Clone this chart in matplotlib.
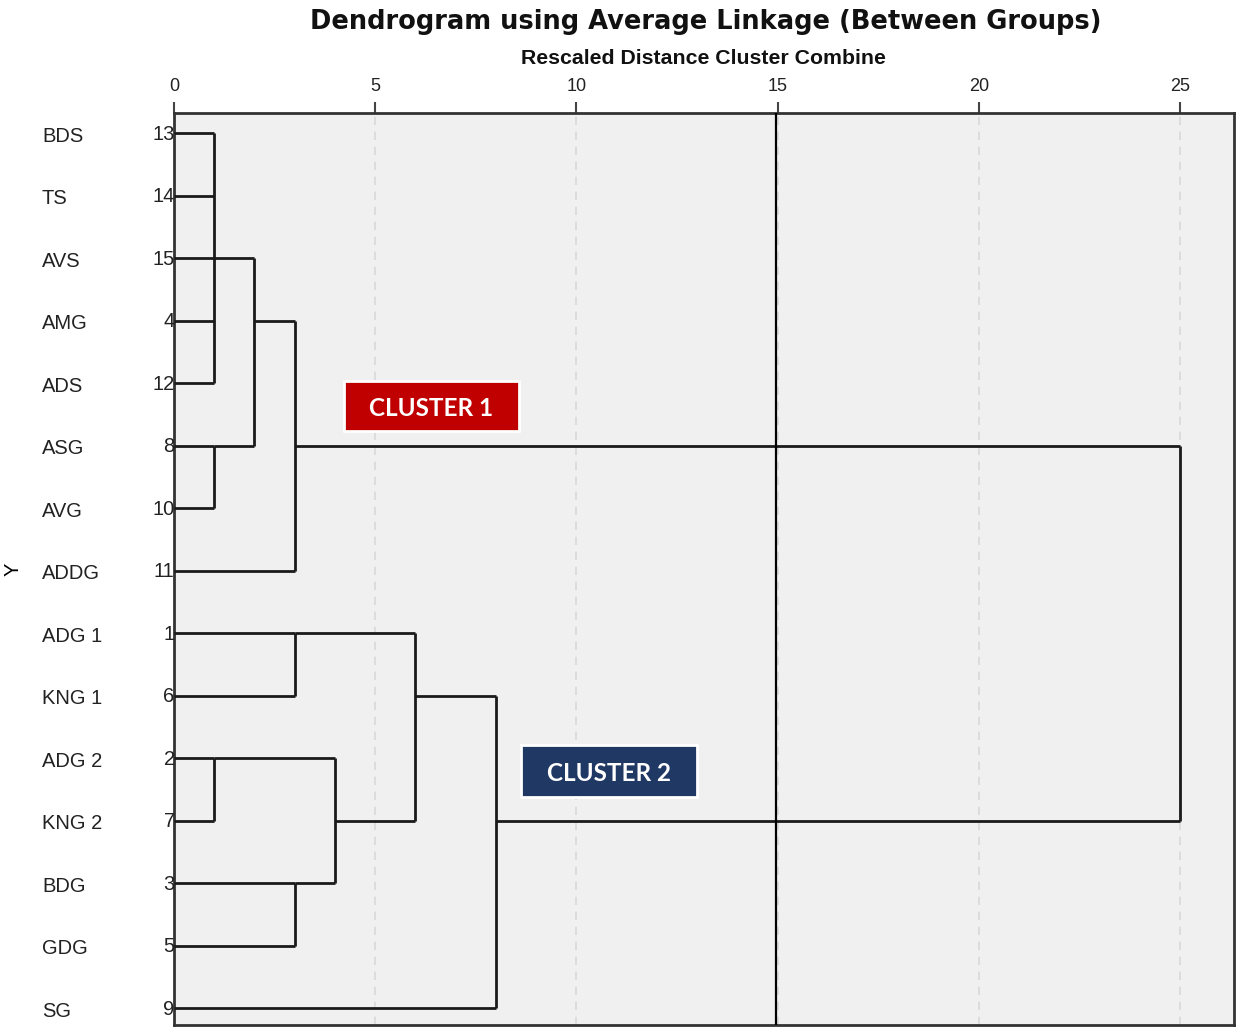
import matplotlib
matplotlib.use("Agg")
import matplotlib.pyplot as plt
from matplotlib.patches import Rectangle

# leaf order top to bottom, with the case numbers printed beside them
labels = ['BDS', 'TS', 'AVS', 'AMG', 'ADS', 'ASG', 'AVG', 'ADDG',
          'ADG 1', 'KNG 1', 'ADG 2', 'KNG 2', 'BDG', 'GDG', 'SG']
case_ids = ['13', '14', '15', '4', '12', '8', '10', '11',
            '1', '6', '2', '7', '3', '5', '9']

# merges: (children, rescaled distance, row the link leaves from)
# children are leaf rows (int) or earlier merges ('m' + index)
merges = [
    ([0, 1, 2, 3, 4], 1, 2),
    ([5, 6], 1, 5),
    (['m0', 'm1'], 2, 3),
    (['m2', 7], 3, 5),
    ([8, 9], 3, 8),
    ([10, 11], 1, 10),
    ([12, 13], 3, 12),
    (['m5', 'm6'], 4, 11),
    (['m4', 'm7'], 6, 9),
    (['m8', 14], 8, 11),
    (['m3', 'm9'], 25, None),
]
cut_level = 15
xticks = [0, 5, 10, 15, 20, 25]

fig = plt.figure(figsize=(12.38, 10.28), dpi=100)
ax = fig.add_axes([0.1405, 0.003, 0.8563, 0.887])
ax.set_facecolor('#f0f0f0')

n = len(labels)
ax.set_xlim(0, 26.34)
ax.set_ylim(n - 1 + 0.27, -0.32)

for x in xticks[1:]:
    ax.axvline(x, color='#d8d8d8', lw=1.2, ls=(0, (5, 4)), zorder=1)


def node_pos(c):
    # x where the node sits and the row it connects from
    if isinstance(c, int):
        return 0, c
    m = merges[int(c[1:])]
    return m[1], m[2]


line_kw = dict(color='#1a1a1a', lw=2.0, solid_capstyle='butt', zorder=3)
for children, height, _ in merges:
    rows = []
    for c in children:
        x0, r = node_pos(c)
        ax.plot([x0, height], [r, r], **line_kw)
        rows.append(r)
    ax.plot([height, height], [min(rows), max(rows)], **line_kw)

ax.axvline(cut_level - 0.05, color='black', lw=1.6, zorder=4)

# axis styling: ticks on top only
ax.xaxis.tick_top()
ax.set_xticks(xticks)
ax.set_xticklabels([str(t) for t in xticks], fontsize=13, color='#222222',
                   family='Liberation Sans')
ax.tick_params(axis='x', direction='out', length=8, width=1.5, pad=5,
               color='#444444')
ax.set_yticks([])
for s in ax.spines.values():
    s.set_color('#333333')
    s.set_linewidth(2)

for i, (lab, cid) in enumerate(zip(labels, case_ids)):
    ax.text(-3.28, i + 0.05, lab, ha='left', va='center', fontsize=14.5,
            family='Liberation Sans', color='#222222', clip_on=False)
    ax.text(0.02, i + 0.02, cid, ha='right', va='center', fontsize=14.5,
            family='Liberation Sans', color='#222222', clip_on=False)

ax.set_ylabel('Y', fontsize=14.5, family='Liberation Sans')
ax.yaxis.set_label_coords(-0.143, 0.5)

fig.text(0.570, 0.979, 'Dendrogram using Average Linkage (Between Groups)',
         ha='center', va='center', fontsize=18.5, fontweight='bold',
         family='DejaVu Sans', color='#111111')
fig.text(0.568, 0.943, 'Rescaled Distance Cluster Combine',
         ha='center', va='center', fontsize=15.3, fontweight='bold',
         family='Liberation Sans', color='#111111')

# cluster tags
for (x0, y0, w, h), txt, col in [((344, 381, 175, 50), 'CLUSTER 1', '#c00000'),
                                 ((521, 745, 176, 52), 'CLUSTER 2', '#1f3864')]:
    fx, fy = x0 / 1238, 1 - (y0 + h) / 1028
    fw, fh = w / 1238, h / 1028
    fig.patches.append(Rectangle((fx, fy), fw, fh, transform=fig.transFigure,
                                 facecolor=col, edgecolor='white', lw=2,
                                 zorder=5))
    fig.text(fx + fw / 2, fy + fh / 2 - 0.002, txt, ha='center', va='center',
             fontsize=17.5, fontweight='bold', family='Lato', color='white',
             zorder=6)

fig.savefig('out.png', dpi=100)
